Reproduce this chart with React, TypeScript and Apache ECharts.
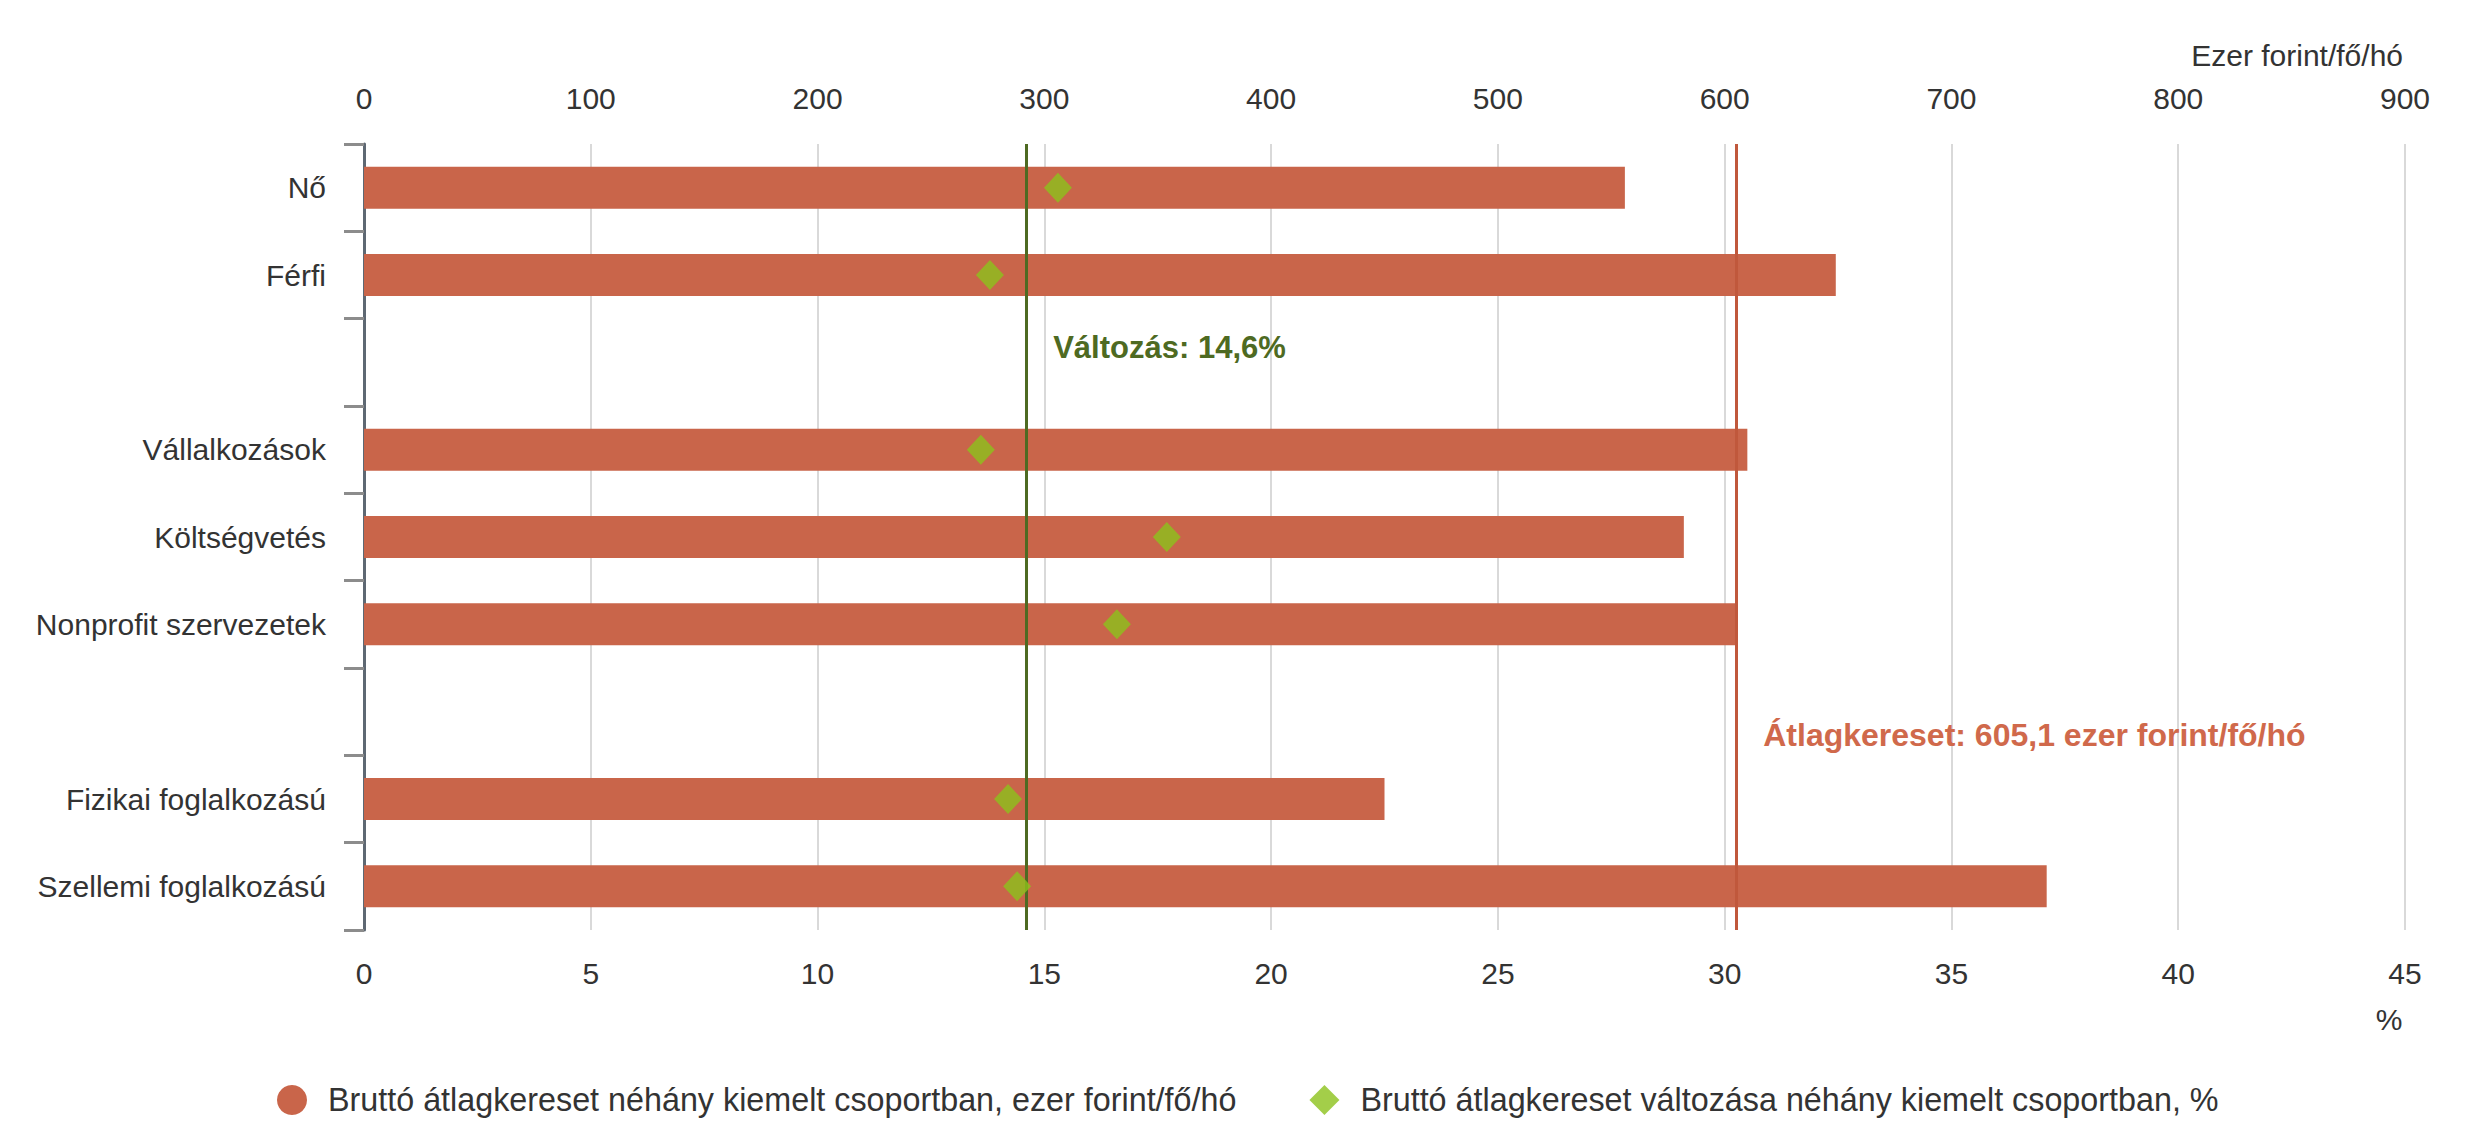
import React, { useEffect, useRef } from "react";
import * as echarts from "echarts";

const categories = [
  "Nő",
  "Férfi",
  " ",
  "Vállalkozások",
  "Költségvetés",
  "Nonprofit szervezetek",
  "  ",
  "Fizikai foglalkozású",
  "Szellemi foglalkozású",
];
const wageValues: (number | null)[] = [556, 649, null, 610, 582, 605, null, 450, 742];
const changeValues: (number | null)[] = [15.3, 13.8, null, 13.6, 17.7, 16.6, null, 14.2, 14.4];
const wageAxis = { min: 0, max: 900, interval: 100 };
const pctAxis = { min: 0, max: 45, interval: 5 };
const averageWage = 605.1;
const averageChange = 14.6;
const wageSeriesName = "Bruttó átlagkereset néhány kiemelt csoportban, ezer forint/fő/hó";
const changeSeriesName = "Bruttó átlagkereset változása néhány kiemelt csoportban, %";
const wageUnit = "Ezer forint/fő/hó";
const pctUnit = "%";

const FONT = '"Liberation Sans", Arial, sans-serif';
const BAR = "#C9654A";
const AVG_RED = "#C0583C";
const GREEN_LINE = "#4E6A22";
const DIAMOND = "#8CC21C";
const TEXT = "#333333";

const fmt = (v: number) => String(v).replace(".", ",");

export default function App() {
  const ref = useRef<HTMLDivElement>(null);
  useEffect(() => {
    document.body.style.margin = "0";
    const chart = echarts.init(ref.current!, null, { renderer: "svg" });
    const option: any = {
      animation: false,
      backgroundColor: "#ffffff",
      textStyle: { fontFamily: FONT },
      grid: { left: 364, right: 62, top: 144, bottom: 191 },
      legend: {
        left: 272,
        top: 1079,
        itemWidth: 30,
        itemHeight: 30,
        itemGap: 73,
        textStyle: { fontSize: 32.3, color: TEXT, fontFamily: FONT, padding: [0, 0, 0, 16] },
        data: [
          { name: wageSeriesName, icon: "circle" },
          { name: changeSeriesName, icon: "diamond" },
        ],
      },
      xAxis: [
        {
          type: "value",
          position: "top",
          min: wageAxis.min,
          max: wageAxis.max,
          interval: wageAxis.interval,
          axisLine: { show: false },
          axisTick: { show: false },
          axisLabel: { fontSize: 30, color: TEXT, margin: 31, fontFamily: FONT },
          splitLine: { show: true, lineStyle: { color: "#D9D9D9", width: 2 } },
        },
        {
          type: "value",
          position: "bottom",
          min: pctAxis.min,
          max: pctAxis.max,
          interval: pctAxis.interval,
          axisLine: { show: false },
          axisTick: { show: false },
          axisLabel: { fontSize: 30, color: TEXT, margin: 28, fontFamily: FONT },
          splitLine: { show: false },
        },
      ],
      yAxis: {
        type: "category",
        inverse: true,
        data: categories,
        axisLine: { show: true, lineStyle: { color: "#5E6873", width: 3 } },
        axisTick: { show: true, length: 20, lineStyle: { color: "#8C8C8C", width: 3 } },
        axisLabel: { fontSize: 30, color: TEXT, margin: 38, fontFamily: FONT },
        splitLine: { show: false },
      },
      series: [
        {
          name: wageSeriesName,
          type: "bar",
          xAxisIndex: 0,
          data: wageValues,
          barWidth: 42,
          itemStyle: { color: BAR },
          z: 2,
          markLine: {
            silent: true,
            symbol: "none",
            z: 5,
            label: { show: false },
            lineStyle: { color: AVG_RED, width: 3, type: "solid" },
            data: [{ xAxis: averageWage }],
          },
        },
        {
          name: changeSeriesName,
          type: "scatter",
          xAxisIndex: 1,
          data: changeValues,
          symbol: "diamond",
          symbolSize: [28, 30],
          itemStyle: { color: DIAMOND },
          z: 10,
          markLine: {
            silent: true,
            symbol: "none",
            z: 5,
            label: { show: false },
            lineStyle: { color: GREEN_LINE, width: 3, type: "solid" },
            data: [{ xAxis: averageChange }],
          },
        },
      ],
    };
    chart.setOption(option);

    const xGreen = chart.convertToPixel({ xAxisIndex: 1 }, averageChange) as number;
    const xRed = chart.convertToPixel({ xAxisIndex: 0 }, averageWage) as number;
    const yGap1 = chart.convertToPixel({ yAxisIndex: 0 }, categories[2]) as number;
    const yGap2 = chart.convertToPixel({ yAxisIndex: 0 }, categories[6]) as number;

    chart.setOption({
      graphic: [
        {
          type: "text",
          right: 64,
          top: 40,
          style: { text: wageUnit, fontSize: 30, fill: TEXT, fontFamily: FONT },
        },
        {
          type: "text",
          x: 2389,
          y: 1019,
          style: {
            text: pctUnit,
            fontSize: 30,
            fill: TEXT,
            fontFamily: FONT,
            align: "center",
            verticalAlign: "middle",
          },
        },
        {
          type: "text",
          x: xGreen + 27,
          y: yGap1 - 15,
          z: 20,
          style: {
            text: "Változás: " + fmt(averageChange) + "%",
            fontSize: 31,
            fontWeight: "bold",
            fill: GREEN_LINE,
            fontFamily: FONT,
            verticalAlign: "middle",
          },
        },
        {
          type: "text",
          x: xRed + 27,
          y: yGap2 + 23,
          z: 20,
          style: {
            text: "Átlagkereset: " + fmt(averageWage) + " ezer forint/fő/hó",
            fontSize: 32,
            fontWeight: "bold",
            fill: "#D0694B",
            fontFamily: FONT,
            verticalAlign: "middle",
          },
        },
      ],
    });

    return () => chart.dispose();
  }, []);
  return <div ref={ref} style={{ width: 2467, height: 1121 }} />;
}
